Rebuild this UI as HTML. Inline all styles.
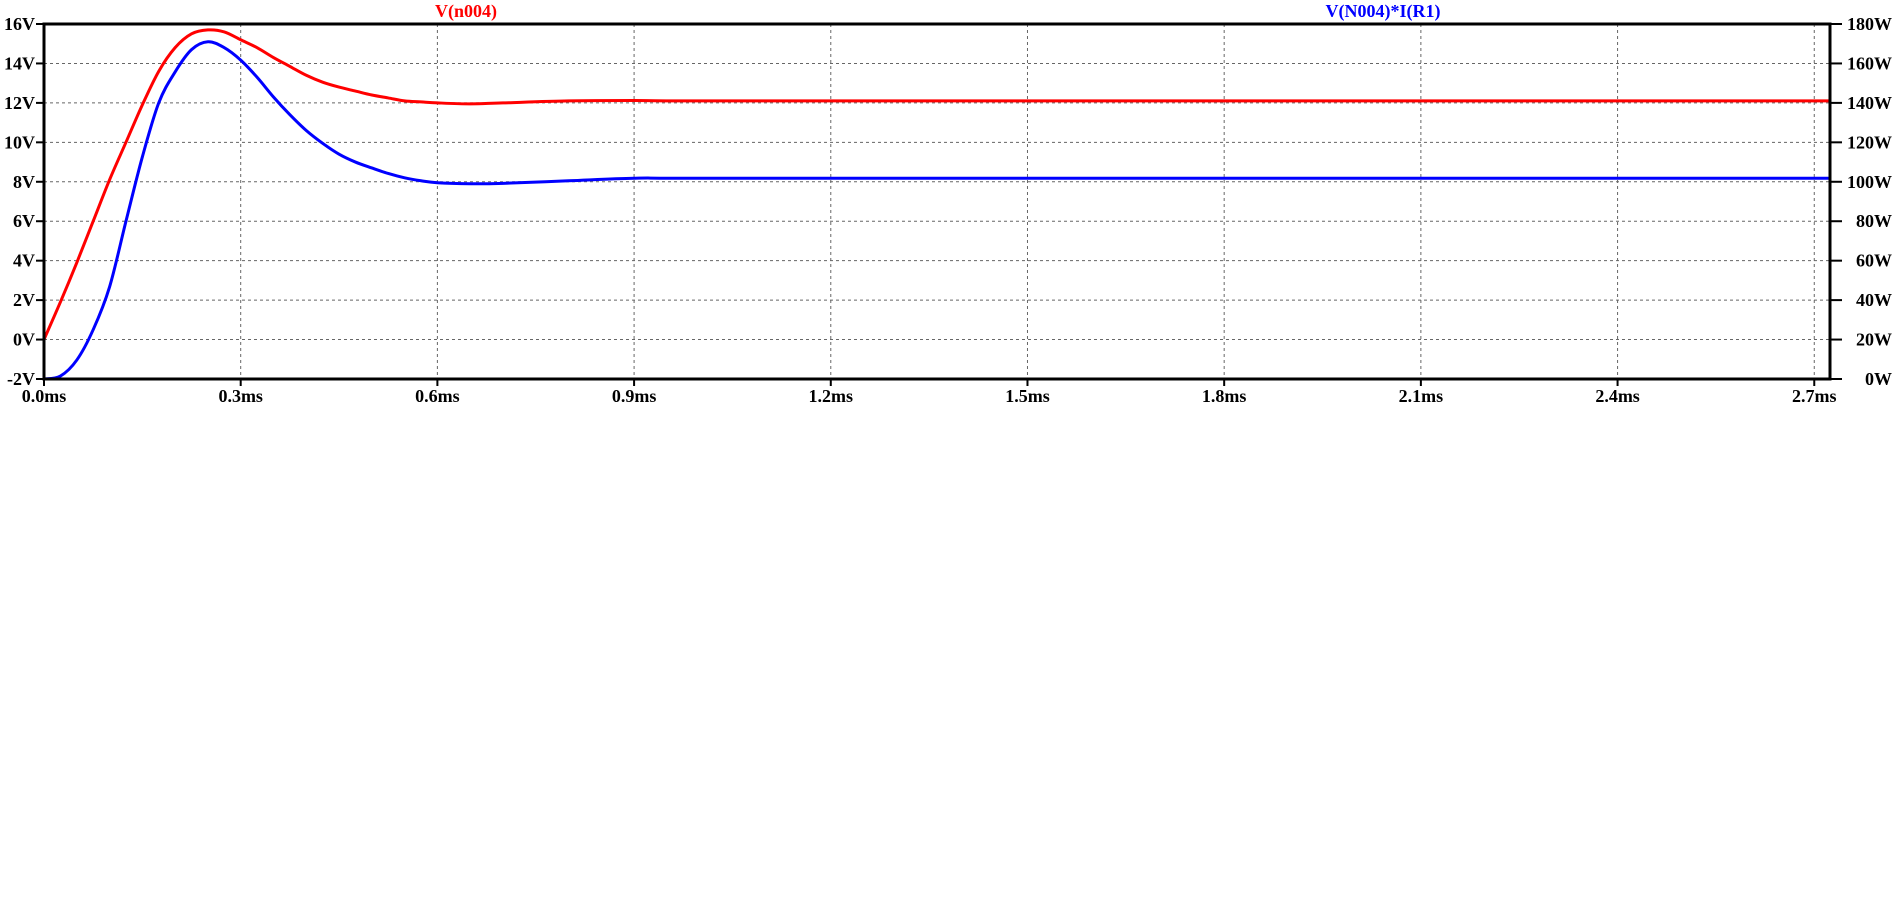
<!DOCTYPE html>
<html><head><meta charset="utf-8">
<style>
html,body{margin:0;padding:0;background:#fff;}
svg{display:block;}
text{font-family:"Liberation Serif",serif;font-weight:bold;font-size:18px;}
</style></head>
<body>
<svg id="chart" width="1896" height="906" viewBox="0 0 1896 906" xmlns="http://www.w3.org/2000/svg">
<g id="grid"></g>
<g id="series"></g>
<g id="axes"></g>
<text x="466" y="17" text-anchor="middle" fill="#ff0000">V(n004)</text>
<text x="1383" y="17" text-anchor="middle" fill="#0000ff">V(N004)*I(R1)</text>
</svg>
<script>
const xTicks = [0,0.3,0.6,0.9,1.2,1.5,1.8,2.1,2.4,2.7];
const xTickLabels = ["0.0ms","0.3ms","0.6ms","0.9ms","1.2ms","1.5ms","1.8ms","2.1ms","2.4ms","2.7ms"];
const yLeftTicks = [-2,0,2,4,6,8,10,12,14,16];
const yRightTicks = [0,20,40,60,80,100,120,140,160,180];
const times = [0,0.025,0.05,0.075,0.1,0.125,0.15,0.175,0.2,0.225,0.25,0.275,0.3,0.325,0.35,0.375,0.4,0.425,0.45,0.475,0.5,0.525,0.55,0.575,0.6,0.65,0.7,0.8,0.9,1.0,1.5,2.0,2.5,2.724];
const voltage = [0,1.9,3.9,6.0,8.1,10.0,11.9,13.6,14.8,15.5,15.7,15.6,15.2,14.8,14.3,13.85,13.4,13.05,12.8,12.6,12.4,12.25,12.1,12.05,12.0,11.95,12.0,12.1,12.12,12.1,12.1,12.1,12.1,12.1];
const power = [0,1.5,9.6,25,46.7,80,112.6,140,155.7,167,171,168,161.7,153,143,134,126,119.5,114,110,107,104.2,102,100.5,99.5,99,99.2,100.5,101.8,101.8,101.8,101.8,101.8,101.8];

const X0=44,X1=1830,Y0=24,Y1=379,TMAX=2.724;
const NS="http://www.w3.org/2000/svg";
function xs(t){return X0+(t/TMAX)*(X1-X0);}
function yl(v){return Y1-(v+2)/18*(Y1-Y0);}
function yr(w){return Y1-w/180*(Y1-Y0);}
function mk(tag,attrs,parent){const e=document.createElementNS(NS,tag);for(const k in attrs)e.setAttribute(k,attrs[k]);parent.appendChild(e);return e;}
function smooth(pts){let d='M'+pts[0][0]+','+pts[0][1];for(let i=0;i<pts.length-1;i++){const p0=pts[Math.max(0,i-1)],p1=pts[i],p2=pts[i+1],p3=pts[Math.min(pts.length-1,i+2)];const c1x=p1[0]+(p2[0]-p0[0])/6,c1y=p1[1]+(p2[1]-p0[1])/6,c2x=p2[0]-(p3[0]-p1[0])/6,c2y=p2[1]-(p3[1]-p1[1])/6;d+=' C'+c1x+','+c1y+' '+c2x+','+c2y+' '+p2[0]+','+p2[1];}return d;}
const grid=document.getElementById('grid'),axes=document.getElementById('axes'),ser=document.getElementById('series');
xTicks.forEach((t,i)=>{
  const x=xs(t);
  if(i>0){const g=mk('line',{x1:x,x2:x,y1:Y0,y2:Y1,stroke:'#666','stroke-width':1,'stroke-dasharray':'3,3'},grid);
  
  }
  const tk=mk('line',{x1:x,x2:x,y1:Y1,y2:Y1+7,stroke:'#000','stroke-width':2},axes);
  
  
  const lb=mk('text',{x:x,y:Y1+23,'text-anchor':'middle',fill:'#000'},axes);
  lb.textContent=xTickLabels[i];
  
  
});
yLeftTicks.forEach((v,i)=>{
  const y=yl(v);
  if(i>0&&i<yLeftTicks.length-1){const g=mk('line',{x1:X0,x2:X1,y1:y,y2:y,stroke:'#666','stroke-width':1,'stroke-dasharray':'3,3'},grid);
  
  }
  const tk=mk('line',{x1:X0-8,x2:X0,y1:y,y2:y,stroke:'#000','stroke-width':2},axes);
  
  
  const lb=mk('text',{x:X0-9,y:y+6,'text-anchor':'end',fill:'#000'},axes);
  lb.textContent=v+'V';
  
  
});
yRightTicks.forEach((w)=>{
  const y=yr(w);
  const tk=mk('line',{x1:X1,x2:X1+12,y1:y,y2:y,stroke:'#000','stroke-width':2},axes);
  
  
  const lb=mk('text',{x:1892,y:y+6,'text-anchor':'end',fill:'#000'},axes);
  lb.textContent=w+'W';
  
  
});
const frame=mk('rect',{x:X0,y:Y0,width:X1-X0,height:Y1-Y0,fill:'none',stroke:'#000','stroke-width':3},axes);


const pr=mk('path',{d:smooth(times.map((t,i)=>[xs(t),yl(voltage[i])])),fill:'none',stroke:'#ff0000','stroke-width':3,'stroke-linejoin':'round'},ser);


const pb=mk('path',{d:smooth(times.map((t,i)=>[xs(t),yr(power[i])])),fill:'none',stroke:'#0000ff','stroke-width':3,'stroke-linejoin':'round'},ser);


</script>
</body></html>
